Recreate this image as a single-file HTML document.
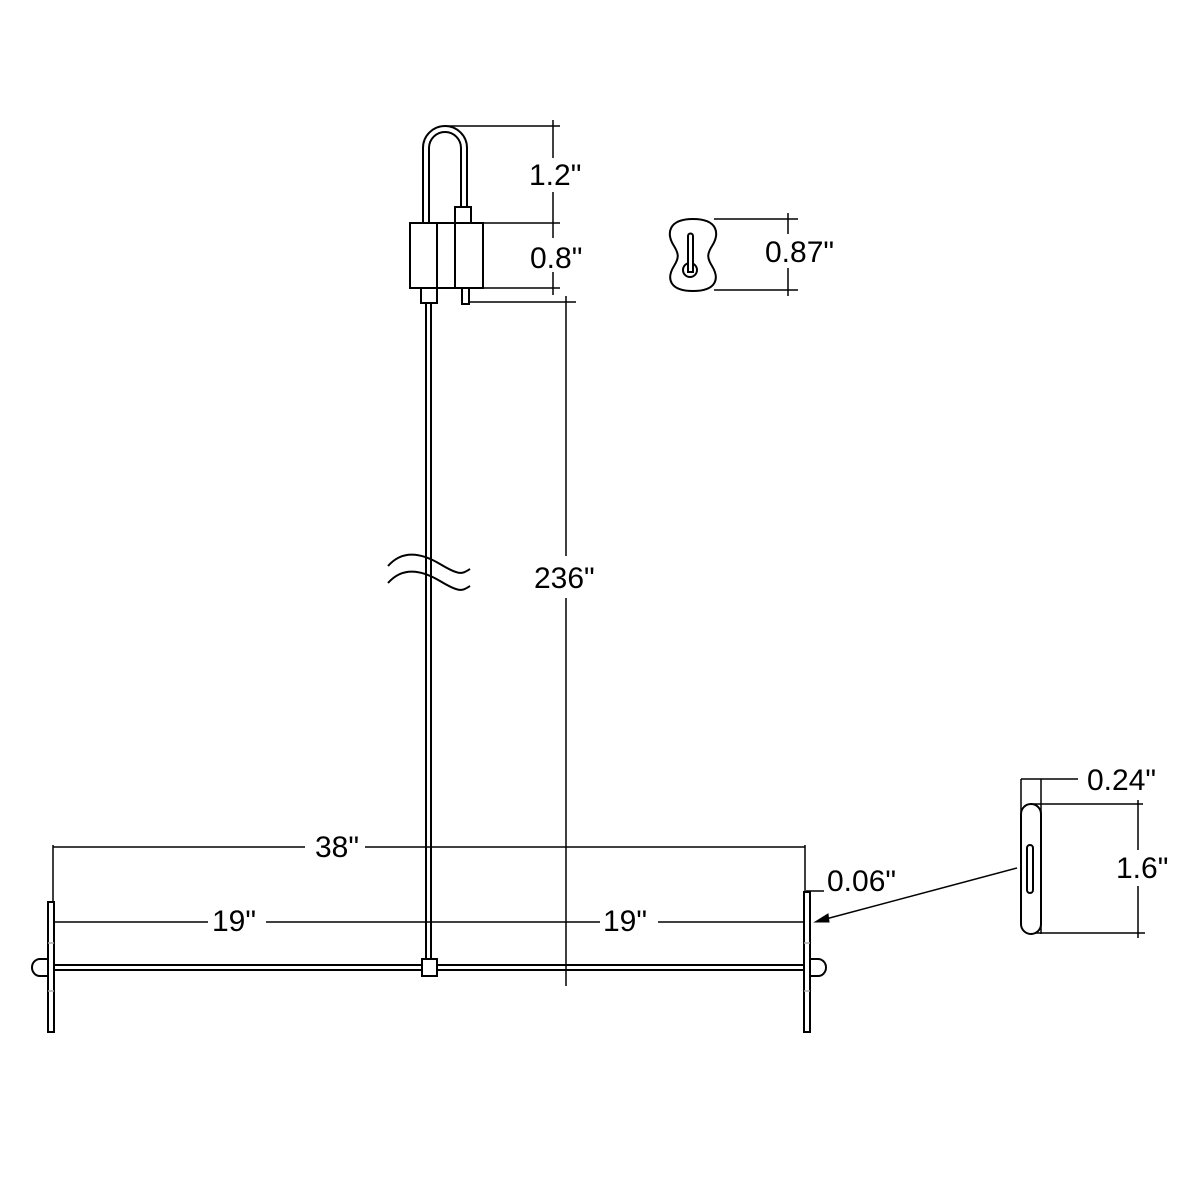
<!DOCTYPE html>
<html><head><style>html,body{margin:0;padding:0;background:#fff}svg{display:block}</style></head><body>
<svg width="1200" height="1200" viewBox="0 0 1200 1200" xmlns="http://www.w3.org/2000/svg">
<g fill="none" stroke="#000" stroke-width="2">
<path d="M423,223 V148 A22,22 0 0 1 467,148 V207"/>
<path d="M429,223 V148 A16,16 0 0 1 461,148 V207"/>
<rect x="455" y="207" width="16" height="16" fill="#fff"/>
<rect x="410" y="223" width="73" height="65"/>
<line x1="437" y1="223" x2="437" y2="288"/>
<line x1="455" y1="223" x2="455" y2="288"/>
<rect x="421" y="288" width="16" height="15"/>
<rect x="462" y="288" width="7" height="16"/>
<line x1="426" y1="303" x2="426" y2="959"/>
<line x1="431" y1="303" x2="431" y2="959"/>
<path d="M388,566 C402,550 420,552 440,564 S462,574 470,569"/>
<path d="M388,583 C402,567 420,569 440,581 S462,591 470,586"/>
<g stroke-width="1.5">
<line x1="445" y1="126" x2="560" y2="126"/>
<line x1="553" y1="120" x2="553" y2="158"/>
<line x1="553" y1="192" x2="553" y2="238"/>
<line x1="483" y1="223" x2="560" y2="223"/>
<line x1="483" y1="288" x2="560" y2="288"/>
<line x1="553" y1="272" x2="553" y2="295"/>
<line x1="469" y1="302" x2="576" y2="302"/>
<line x1="566" y1="296" x2="566" y2="556"/>
<line x1="566" y1="598" x2="566" y2="986"/>
<line x1="714" y1="219" x2="798" y2="219"/>
<line x1="714" y1="290" x2="798" y2="290"/>
<line x1="788" y1="213" x2="788" y2="234"/>
<line x1="788" y1="268" x2="788" y2="296"/>
<line x1="53" y1="847" x2="305" y2="847"/>
<line x1="365" y1="847" x2="805" y2="847"/>
<line x1="53" y1="845" x2="53" y2="905"/>
<line x1="805" y1="845" x2="805" y2="905"/>
<line x1="55" y1="922" x2="208" y2="922"/>
<line x1="266" y1="922" x2="600" y2="922"/>
<line x1="658" y1="922" x2="805" y2="922"/>
<line x1="806" y1="891" x2="824" y2="891"/>
<line x1="1017" y1="868" x2="822" y2="920"/>
<line x1="1021" y1="779" x2="1078" y2="779"/>
<line x1="1021" y1="779" x2="1021" y2="812"/>
<line x1="1041" y1="779" x2="1041" y2="934"/>
<line x1="1030" y1="804" x2="1143" y2="804"/>
<line x1="1035" y1="933" x2="1145" y2="933"/>
<line x1="1138" y1="800" x2="1138" y2="850"/>
<line x1="1138" y1="886" x2="1138" y2="938"/>
</g>
<path d="M815,922 L828,914 L829,922 Z" fill="#000" stroke="#000" stroke-width="1"/>
<path d="M693,219 C718,219 720,234 712,246 C707,254 707,258 712,266 C720,279 716,291 693,291 C670,291 666,279 674,266 C679,258 679,254 674,246 C666,234 668,219 693,219 Z"/>
<circle cx="690" cy="270" r="7"/>
<path d="M688,236 A2.5,2.5 0 0 1 693,236 V272 H688 Z" fill="#fff"/>
<line x1="55" y1="965" x2="805" y2="965"/>
<line x1="55" y1="970" x2="805" y2="970"/>
<rect x="422" y="959" width="15" height="17" fill="#fff"/>
<rect x="48" y="902" width="6" height="130" fill="#fff"/>
<path d="M48,959 H40 A8,8.5 0 0 0 40,976 H48"/>
<rect x="804" y="892" width="6" height="140" fill="#fff"/>
<path d="M810,959 H818 A8,8.5 0 0 1 818,976 H810"/>
<rect x="1021" y="804" width="20" height="130" rx="10"/>
<rect x="1027" y="845" width="6" height="48" rx="3"/>
</g>
<g stroke="#aaa" stroke-width="1.5">
<line x1="48" y1="943" x2="54" y2="943"/><line x1="48" y1="991" x2="54" y2="991"/>
<line x1="804" y1="943" x2="810" y2="943"/><line x1="804" y1="991" x2="810" y2="991"/>
</g>
<g font-family="Liberation Sans, sans-serif" font-size="30" fill="#000">
<text x="529" y="185">1.2"</text>
<text x="530" y="268">0.8"</text>
<text x="765" y="262">0.87"</text>
<text x="534" y="588">236"</text>
<text x="315" y="857">38"</text>
<text x="212" y="931">19"</text>
<text x="603" y="931">19"</text>
<text x="827" y="891">0.06"</text>
<text x="1087" y="790">0.24"</text>
<text x="1116" y="878">1.6"</text>
</g>
</svg>
</body></html>
